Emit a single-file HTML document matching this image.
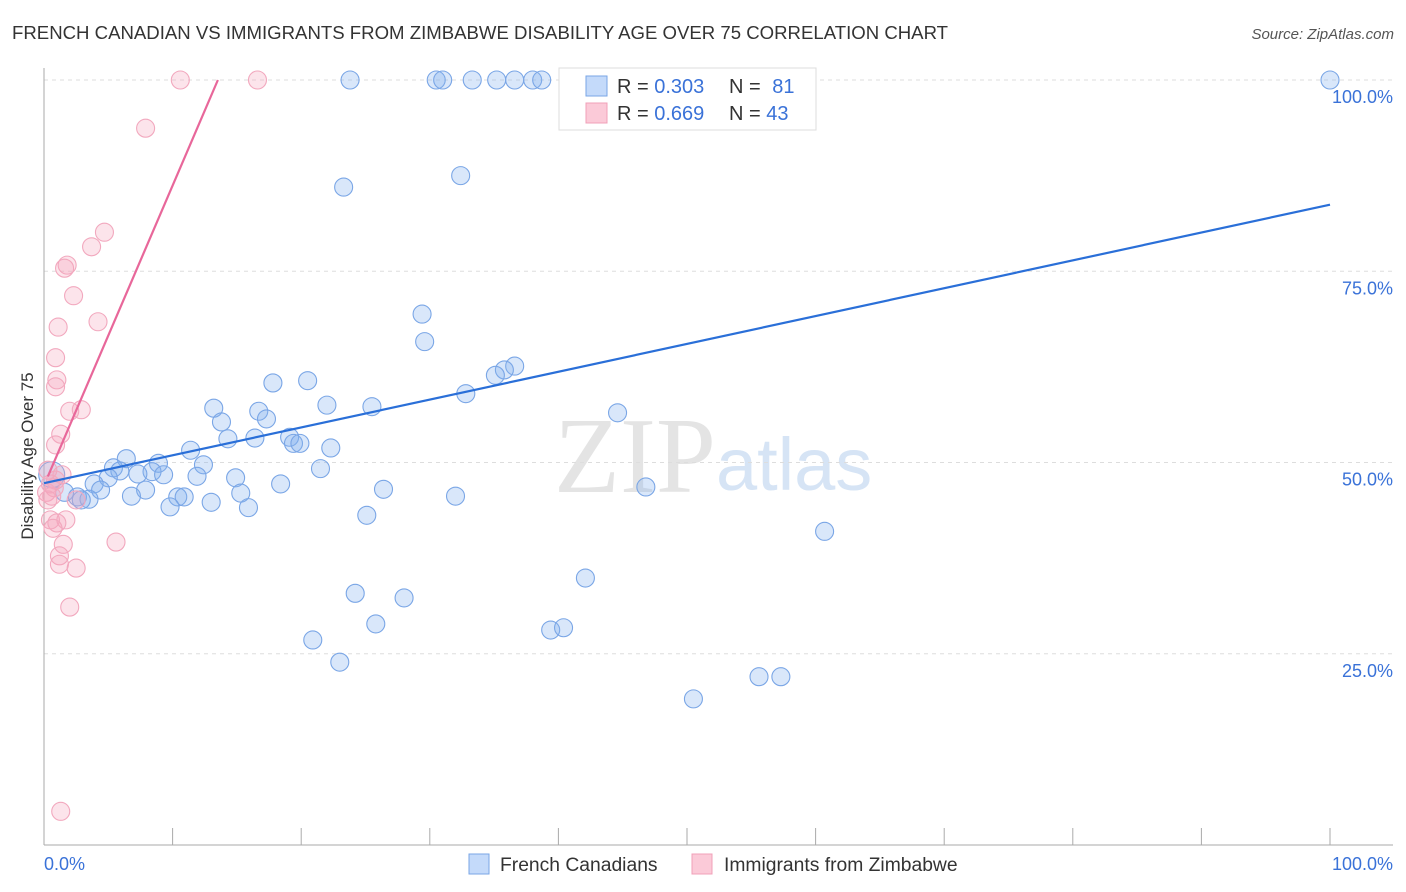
<!DOCTYPE html>
<html><head><meta charset="utf-8"><style>
body{margin:0;background:#fff;font-family:"Liberation Sans",sans-serif}
svg{display:block}
</style></head><body>
<svg id="chart" width="1406" height="892">
<text x="12" y="39" font-size="18.6" fill="#333">FRENCH CANADIAN VS IMMIGRANTS FROM ZIMBABWE DISABILITY AGE OVER 75 CORRELATION CHART</text>
<text x="1394" y="39" font-size="15" fill="#555" font-style="italic" text-anchor="end">Source: ZipAtlas.com</text>
<text x="716" y="492" font-size="108" fill="#e4e4e4" text-anchor="end" font-family="Liberation Serif,serif">ZIP</text>
<text x="716" y="490" font-size="74" fill="#d6e4f5">atlas</text>
<g id="grid"></g><g id="axes"></g><g id="marks"></g>
<text transform="translate(33,456) rotate(-90)" font-size="17" fill="#333" text-anchor="middle">Disability Age Over 75</text>
<g>
<rect x="559" y="68" width="257" height="62" fill="#fff" stroke="#ddd"/>
<rect x="586" y="76" width="21" height="20" fill="#c4dafa" stroke="#7aa6e6"/>
<text x="617" y="93" font-size="20" fill="#333">R = <tspan fill="#3a72d8">0.303</tspan></text>
<text x="729" y="93" font-size="20" fill="#333">N = <tspan fill="#3a72d8" dx="6">81</tspan></text>
<rect x="586" y="103" width="21" height="20" fill="#fbcad8" stroke="#f0a0b8"/>
<text x="617" y="120" font-size="20" fill="#333">R = <tspan fill="#3a72d8">0.669</tspan></text>
<text x="729" y="120" font-size="20" fill="#333">N = <tspan fill="#3a72d8">43</tspan></text>
</g>
<g>
<rect x="469" y="854" width="20" height="20" fill="#c4dafa" stroke="#7aa6e6"/>
<text x="500" y="871" font-size="19.3" fill="#333">French Canadians</text>
<rect x="692" y="854" width="20" height="20" fill="#fbcad8" stroke="#f0a0b8"/>
<text x="724" y="871" font-size="19.3" fill="#333">Immigrants from Zimbabwe</text>
</g>
</svg>
<script>
const blueX=[23.8,30.5,31.0,33.3,35.2,36.6,38.0,38.7,53.0,100,23.3,32.4,29.4,29.6,36.6,35.8,35.1,32.8,20.5,17.8,13.2,16.7,17.3,22.0,25.5,44.6,13.8,14.3,16.4,19.1,19.4,19.9,22.3,11.4,6.4,8.9,12.4,5.4,5.9,8.4,9.3,7.3,21.5,5.0,14.9,11.9,3.9,18.4,4.4,1.6,26.4,15.3,7.9,46.8,6.8,2.6,3.5,2.9,10.4,10.9,32.0,13.0,9.8,15.9,25.1,60.7,0.6,42.1,24.2,28.0,25.8,39.4,40.4,20.9,23.0,55.6,57.3,50.5];
const blueY=[100,100,100,100,100,100,100,100,100,100,86.0,87.5,69.4,65.8,62.6,62.1,61.4,59.0,60.7,60.4,57.1,56.7,55.7,57.5,57.3,56.5,55.3,53.1,53.2,53.3,52.5,52.5,51.9,51.6,50.5,49.9,49.7,49.3,48.9,48.8,48.4,48.5,49.2,48.0,48.0,48.2,47.2,47.2,46.4,46.1,46.5,46.0,46.4,46.8,45.6,45.5,45.2,45.1,45.5,45.5,45.6,44.8,44.2,44.1,43.1,41.0,48.4,34.9,32.9,32.3,28.9,28.1,28.4,26.8,23.9,22.0,22.0,19.1];
const pinkX=[10.6,16.6,7.9,4.7,3.7,1.8,1.6,2.3,4.2,1.1,0.9,1.0,0.9,2.0,2.9,1.3,0.9,1.4,0.9,0.5,0.8,0.2,0.6,0.3,2.5,0.5,1.7,1.0,0.7,5.6,1.5,1.2,1.2,2.5,2.0,1.3,0.3];
const pinkY=[100,100,93.7,80.1,78.2,75.8,75.4,71.8,68.4,67.7,63.7,60.8,59.9,56.7,56.9,53.7,52.3,48.4,47.7,47.2,46.7,46.1,45.6,45.1,45.1,42.5,42.5,42.1,41.4,39.6,39.3,37.8,36.7,36.2,31.1,4.4,49.0];
const blueTrend=[47.3,0.364]; // intercept, slope
const pinkTrend=[47.0,3.92];
const yTicks=[25,50,75,100];
const yTickLabels=["25.0%","50.0%","75.0%","100.0%"];
const xTicks=[10,20,30,40,50,60,70,80,90,100];

const NS="http://www.w3.org/2000/svg";
const sx=v=>44+v*12.86, sy=v=>845-v*7.65;
function mk(tag,attrs,parent){const e=document.createElementNS(NS,tag);for(const k in attrs)e.setAttribute(k,attrs[k]);parent.appendChild(e);return e;}
const grid=document.getElementById('grid'),axes=document.getElementById('axes'),marks=document.getElementById('marks');
yTicks.forEach((t,i)=>{
 const l=mk('line',{x1:44,x2:1393,y1:sy(t),y2:sy(t),stroke:'#ddd','stroke-dasharray':'4,4'},grid);
 
 
 const tx=mk('text',{x:1393,y:sy(t)+23,'font-size':18,fill:'#3a72d8','text-anchor':'end'},axes);
 tx.textContent=yTickLabels[i];
 
 
});
const ya=mk('line',{x1:44,x2:44,y1:68,y2:845,stroke:'#aaa'},axes);


const xa=mk('line',{x1:44,x2:1393,y1:845,y2:845,stroke:'#aaa'},axes);


xTicks.forEach(t=>{
 const l=mk('line',{x1:sx(t),x2:sx(t),y1:828,y2:845,stroke:'#aaa'},axes);
 
 
});
const x0=mk('text',{x:44,y:870,'font-size':18,fill:'#3a72d8'},axes);x0.textContent='0.0%';


const x1=mk('text',{x:1393,y:870,'font-size':18,fill:'#3a72d8','text-anchor':'end'},axes);x1.textContent='100.0%';


blueX.forEach((v,i)=>{
 const c=mk('circle',{cx:sx(v),cy:sy(blueY[i]),r:(v<1?13:9),fill:'rgba(130,175,240,0.3)',stroke:'#7aa6e6','stroke-width':1.1},marks);
 
 
});
pinkX.forEach((v,i)=>{
 const c=mk('circle',{cx:sx(v),cy:sy(pinkY[i]),r:9,fill:'rgba(245,165,190,0.3)',stroke:'#f2a8be','stroke-width':1.1},marks);
 
 
});
const bl=mk('line',{x1:sx(0),y1:sy(blueTrend[0]),x2:sx(100),y2:sy(blueTrend[0]+100*blueTrend[1]),stroke:'#2a6fd8','stroke-width':2.2},marks);


const pxEnd=(100-pinkTrend[0])/pinkTrend[1];
const pl=mk('line',{x1:sx(0.3),y1:sy(pinkTrend[0]+0.3*pinkTrend[1]),x2:sx(pxEnd),y2:sy(100),stroke:'#e8679a','stroke-width':2.2},marks);


</script>
</body></html>
